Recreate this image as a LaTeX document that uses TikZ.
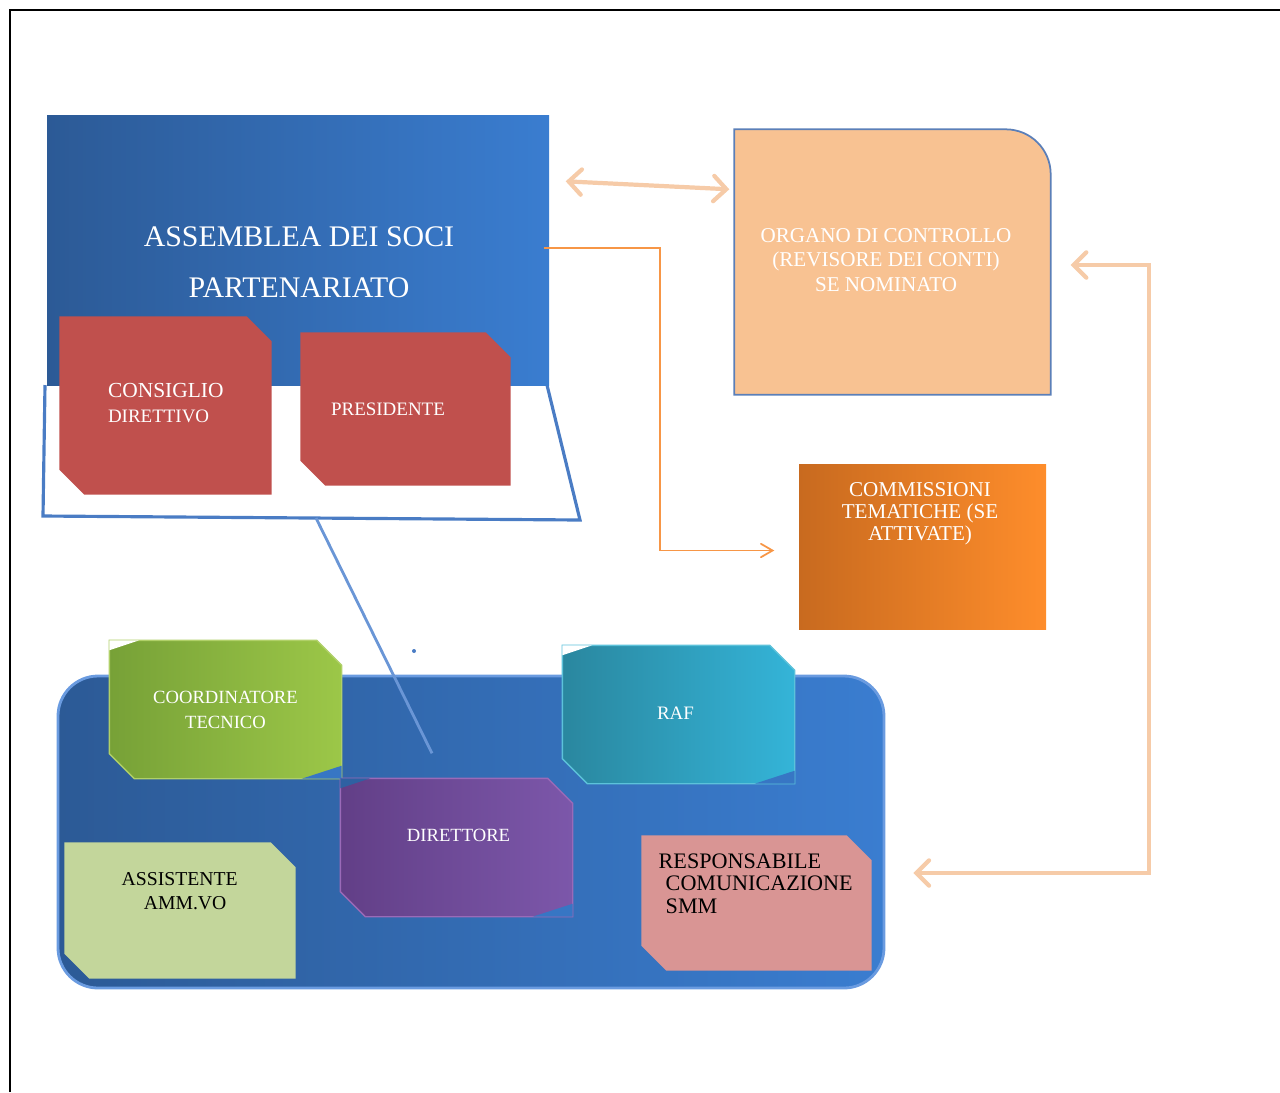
\documentclass[tikz,border=0pt]{standalone}
\usepackage{fontspec}
\setmainfont{Liberation Serif}
\usetikzlibrary{arrows,positioning,calc}

\definecolor{bluedark}{HTML}{2C5A96}
\definecolor{bluelight}{HTML}{3A7DD0}
\definecolor{blueedge}{HTML}{6A9BE0}
\definecolor{lineblue}{HTML}{4A7CC4}
\definecolor{connblue}{HTML}{6A96D6}
\definecolor{redbox}{HTML}{C0504D}
\definecolor{peachbox}{HTML}{F8C292}
\definecolor{organoline}{HTML}{5B7FB8}
\definecolor{peacharrow}{HTML}{F6CBA8}
\definecolor{orgline}{HTML}{F79646}
\definecolor{orangedark}{HTML}{C86A1F}
\definecolor{orangelight}{HTML}{FE8D2B}
\definecolor{greendark}{HTML}{77A137}
\definecolor{greenlight}{HTML}{9CC748}
\definecolor{greenedge}{HTML}{B0D068}
\definecolor{tealdark}{HTML}{2A879F}
\definecolor{teallight}{HTML}{34B4D8}
\definecolor{tealedge}{HTML}{5CC2DA}
\definecolor{purpledark}{HTML}{623F87}
\definecolor{purplelight}{HTML}{7C57AA}
\definecolor{purpleedge}{HTML}{9A6AB8}
\definecolor{palegreen}{HTML}{C3D69B}
\definecolor{pinkbox}{HTML}{D99594}

% riquadro con due angoli tagliati (alto a destra, basso a sinistra)
\newcommand{\snipshape}[1]{(#1.north west) -- ([xshift=-2.5mm]#1.north east) -- ([yshift=-2.5mm]#1.north east)
    -- (#1.south east) -- ([xshift=2.5mm]#1.south west) -- ([yshift=2.5mm]#1.south west) -- cycle}

\begin{document}
\begin{tikzpicture}[x=0.1mm,y=-0.1mm,
    box/.style={rectangle,inner sep=0pt},
    wtxt/.style={text=white,align=center,inner sep=0pt},
    btxt/.style={text=black,align=left,inner sep=0pt},
    peachline/.style={draw=peacharrow,line width=1.2pt,<->,>=angle 90},
    orangeline/.style={draw=orgline,line width=0.5pt,->,>=angle 60},
    trapline/.style={draw=lineblue,line width=0.9pt},
    connline/.style={draw=connblue,line width=0.8pt}]

    \useasboundingbox (0,0) rectangle (1280,1092);
    % cornice
    \draw[line width=0.8pt] (10,1092) -- (10,10) -- (1280,10);

    % assemblea e trapezio
    \draw[trapline] (45,385) -- (43,516) -- (580,520) -- (547,385);
    \coordinate (trapbase) at (316,518);
    \node[box,minimum width=50.2mm,minimum height=27mm,left color=bluedark,right color=bluelight] (assemblea) at (298,250) {};
    \node[wtxt,font=\fontsize{8.5}{14.5}\selectfont] (assembleatxt) at (299,262) {ASSEMBLEA DEI SOCI\\PARTENARIATO};

    \node[box,minimum width=21.1mm,minimum height=17.7mm] (consiglio) at (165.5,405.5) {};
    \fill[redbox] \snipshape{consiglio};
    \node[wtxt,align=left,anchor=west,font=\fontsize{5.4}{7.1}\selectfont] (consigliotxt) at ([shift={(48,-2)}]consiglio.west)
        {{\fontsize{6.1}{7.1}\selectfont CONSIGLIO}\\DIRETTIVO};
    \node[box,minimum width=20.9mm,minimum height=15.2mm] (presidente) at (405.5,409) {};
    \fill[redbox] \snipshape{presidente};
    \node[wtxt,font=\fontsize{5.4}{6.5}\selectfont] (presidentetxt) at ([xshift=-1.75mm]presidente.center) {PRESIDENTE};

    % organo di controllo
    \node[box,minimum width=31.5mm,minimum height=26.4mm] (organo) at (892.5,262) {};
    \filldraw[fill=peachbox,draw=organoline,line width=0.5pt] (organo.south west) -- (organo.north west)
        -- ([xshift=-4.5mm]organo.north east) arc[start angle=90,end angle=0,radius=4.5mm] -- (organo.south east) -- cycle;
    \node[wtxt,font=\fontsize{6}{7}\selectfont] (organotxt) at (886,260) {ORGANO DI CONTROLLO\\(REVISORE DEI CONTI)\\SE NOMINATO};
    \draw[peachline] ([shift={(16,67)}]assemblea.north east) -- ([shift={(-5,60)}]organo.north west);

    % commissioni
    \node[box,minimum width=24.7mm,minimum height=16.5mm,left color=orangedark,right color=orangelight] (commissioni) at (922.5,546.5) {};
    \node[wtxt,font=\fontsize{6}{6.3}\selectfont] (commissionitxt) at (920,514) {COMMISSIONI\\TEMATICHE (SE\\ATTIVATE)};
    \draw[orangeline] ([shift={(-6,-2)}]assemblea.east) -- ++(116,0) |- ([shift={(-24,4)}]commissioni.west);

    % struttura tecnica
    \node[box,rounded corners=4mm,minimum width=82.6mm,minimum height=31.2mm,left color=bluedark,right color=bluelight,
        draw=blueedge,line width=0.8pt] (struttura) at (471,832) {};
    \draw[peachline] ([shift={(20,3)}]organo.east) -- ++(78,0) |- ([shift={(28,41)}]struttura.east);

    \node[box,minimum width=23.1mm,minimum height=13.7mm] (coordinatore) at (225.5,709.5) {};
    \node[box,minimum width=23.1mm,minimum height=13.7mm] (raf) at (678.5,714.5) {};
    \node[box,minimum width=23.1mm,minimum height=13.7mm] (direttore) at (456.5,847.5) {};
    \filldraw[left color=greendark,right color=greenlight,draw=greenedge] \snipshape{coordinatore};
    \filldraw[left color=tealdark,right color=teallight,draw=tealedge] \snipshape{raf};
    \filldraw[left color=purpledark,right color=purplelight,draw=purpleedge] \snipshape{direttore};
    \foreach \n in {coordinatore,raf,direttore}{
        \fill[bluelight!80!bluedark] (\n.south east) -- ++(0,-13) -- ++(-40,13) -- cycle;
    }
    \fill[white] (coordinatore.north west) -- ++(30,0) -- ++(-30,10) -- cycle;
    \fill[white] (raf.north west) -- ++(30,0) -- ++(-30,10) -- cycle;
    \fill[bluedark!80!bluelight] (direttore.north west) -- ++(30,0) -- ++(-30,10) -- cycle;
    \node[wtxt,font=\fontsize{5.3}{7.1}\selectfont] (coordinatoretxt) at (coordinatore.center) {COORDINATORE\\TECNICO};
    \node[wtxt,font=\fontsize{5.4}{6.5}\selectfont] (raftxt) at ([shift={(-3,-1)}]raf.center) {RAF};
    \node[wtxt,font=\fontsize{5.3}{6.5}\selectfont] (direttoretxt) at ([shift={(2,-12)}]direttore.center) {DIRETTORE};

    \node[box,minimum width=23mm,minimum height=13.5mm] (assistente) at (180,910.5) {};
    \fill[palegreen] \snipshape{assistente};
    \node[btxt,anchor=north west,font=\fontsize{5.6}{6.8}\selectfont] (assistentetxt) at (121,872) {ASSISTENTE\\\hspace*{6.3pt}AMM.VO};
    \node[box,minimum width=22.9mm,minimum height=13.4mm] (responsabile) at (756.5,903) {};
    \fill[pinkbox] \snipshape{responsabile};
    \node[btxt,anchor=north west,font=\fontsize{6.3}{6.4}\selectfont] (responsabiletxt) at (658,853)
        {RESPONSABILE\\\hspace*{2pt}COMUNICAZIONE\\\hspace*{2pt}SMM};

    \draw[connline] (trapbase) -- ([shift={(-24.5,-25)}]direttore.north);
    \fill[lineblue] (414,651) circle[radius=0.2mm];
\end{tikzpicture}
\end{document}
